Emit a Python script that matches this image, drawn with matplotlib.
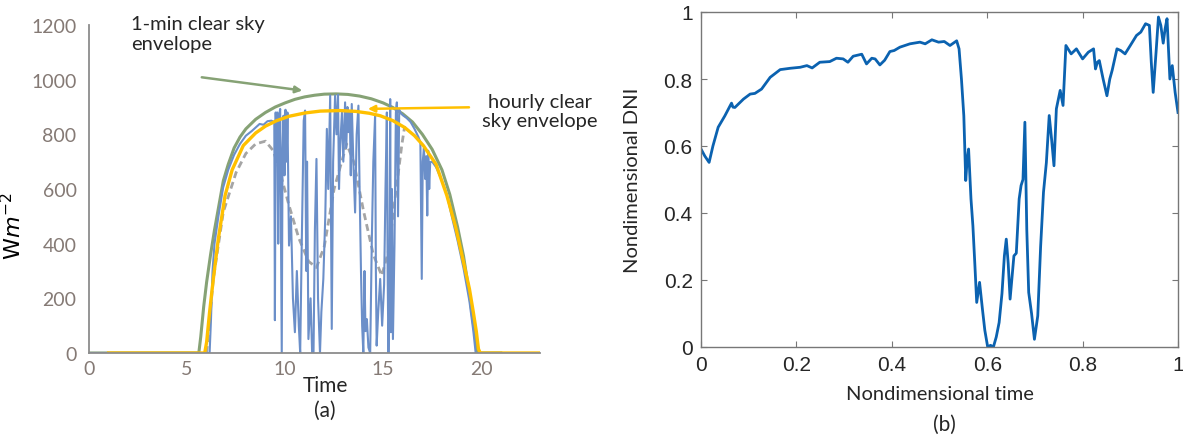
import numpy as np
import matplotlib.pyplot as plt

# (a) 1-min DNI, clear sky envelopes, hourly trend
t_meas = [0, 6.15, 6.22, 6.3, 6.4, 6.6, 6.84, 7.1, 7.4, 7.7, 8.0, 8.3, 8.5, 8.7, 8.9, 9.1, 9.3, 9.45,
          9.48, 9.52, 9.56, 9.6, 9.65, 9.7, 9.75, 9.8, 9.83, 9.87, 9.92, 9.97, 10.02, 10.08, 10.12,
          10.2, 10.3, 10.4, 10.5, 10.6, 10.7, 10.77, 10.85, 10.95, 11.02, 11.08, 11.12, 11.19, 11.3,
          11.38, 11.45, 11.52, 11.6, 11.68, 11.78, 11.85, 11.95, 12.05, 12.13, 12.2, 12.3, 12.38,
          12.45, 12.55, 12.62, 12.7, 12.75, 12.81, 12.9, 12.97, 13.06, 13.12, 13.18, 13.23, 13.3,
          13.35, 13.4, 13.48, 13.57, 13.65, 13.74, 13.8, 13.87, 13.93, 13.99, 14.05, 14.1, 14.17,
          14.25, 14.34, 14.42, 14.5, 14.59, 14.63, 14.67, 14.75, 14.85, 14.95, 15.05, 15.12, 15.19,
          15.23, 15.27, 15.32, 15.36, 15.4, 15.45, 15.5, 15.58, 15.65, 15.7, 15.76, 15.82, 15.87,
          16.0, 16.2, 16.4, 16.6, 16.8, 16.9, 16.97, 17.02, 17.08, 17.14, 17.2, 17.25, 17.3, 17.35,
          17.4, 17.5, 17.7, 18.0, 18.25, 18.5, 18.8, 19.1, 19.4, 19.6, 19.72, 21]
dni_meas = [0, 0, 120, 300, 400, 500, 605, 670, 725, 765, 795, 812, 825, 838, 835, 848, 850, 845,
            120, 880, 700, 880, 400, 870, 893, 300, 0, 750, 868, 650, 890, 700, 880,
            393, 500, 200, 76, 300, 100, 0, 400, 850, 887, 300, 700, 51, 200,
            0, 0, 450, 710, 200, 0, 150, 271, 500, 820, 600, 942, 88,
            700, 942, 800, 945, 600, 759, 880, 700, 917, 750, 900, 808, 880,
            650, 911, 700, 514, 800, 905, 600, 300, 100, 0, 300, 80, 124,
            20, 0, 400, 700, 868, 300, 27, 150, 271, 100, 250, 600, 880,
            300, 0, 200, 929, 76, 600, 51, 400, 880, 917, 500, 890, 880,
            870, 860, 845, 820, 790, 770, 271, 700, 750, 637, 720, 503, 740, 600,
            698, 700, 680, 630, 580, 500, 410, 310, 190, 80, 0, 0]

t_env1 = [0, 5.6, 5.7, 5.85, 6.0, 6.2, 6.4, 6.6, 6.85, 7.1, 7.4, 7.7, 8.0, 8.5, 9.0, 9.5, 10,
          10.5, 11, 11.5, 12, 12.6, 13.2, 13.8, 14.4, 15, 15.5, 16, 16.5, 17, 17.5, 18, 18.4,
          18.8, 19.1, 19.4, 19.6, 19.75, 19.82, 21]
env1 = [0, 0, 60, 170, 260, 360, 450, 530, 630, 690, 750, 790, 820, 855, 880, 900, 915,
        928, 937, 943, 947, 948, 946, 940, 930, 915, 898, 875, 845, 800, 745, 670, 580,
        460, 355, 215, 110, 30, 0, 0]

t_env60 = [1, 5.9, 6.0, 6.15, 6.34, 6.6, 6.94, 7.3, 7.87, 8.5, 9.0, 9.57, 10.2, 11, 11.8, 12.8,
           13.6, 14.3, 14.85, 15.5, 16.1, 16.6, 17.05, 17.7, 18.25, 18.7, 19.1, 19.4, 19.6,
           19.75, 19.86, 19.95, 23]
env60 = [0, 0, 40, 150, 271, 420, 576, 670, 759, 805, 830, 850, 866, 878, 885, 887,
         884, 877, 868, 850, 825, 795, 759, 690, 576, 460, 332, 235, 149,
         80, 15, 0, 0]

t_trend = [6.0, 6.34, 6.85, 7.5, 8.0, 8.5, 9.0, 9.4, 9.74, 10.2, 10.7, 11.2, 11.6, 12.0, 12.5,
           13.14, 13.5, 14.0, 14.5, 14.93, 15.3, 15.6, 15.95, 16.1]
trend = [0, 271, 516, 660, 730, 765, 775, 740, 662, 540, 420, 335, 313, 390, 600,
         765, 700, 520, 360, 283, 380, 560, 760, 830]

# (b) nondimensional DNI
x_nd = [0.0, 0.008, 0.017, 0.025, 0.036, 0.05, 0.061, 0.064, 0.067, 0.071, 0.089, 0.103, 0.113,
        0.127, 0.145, 0.166, 0.187, 0.208, 0.222, 0.233, 0.249, 0.27, 0.284, 0.298, 0.308,
        0.319, 0.337, 0.347, 0.358, 0.365, 0.375, 0.385, 0.396, 0.405, 0.417, 0.438, 0.459,
        0.47, 0.484, 0.498, 0.51, 0.522, 0.536, 0.541, 0.546, 0.551, 0.555, 0.558, 0.561,
        0.566, 0.57, 0.574, 0.578, 0.584, 0.59, 0.595, 0.601, 0.607, 0.613, 0.619, 0.625,
        0.631, 0.636, 0.64, 0.644, 0.648, 0.656, 0.661, 0.667, 0.671, 0.675, 0.679, 0.683,
        0.687, 0.693, 0.699, 0.706, 0.712, 0.718, 0.724, 0.73, 0.735, 0.74, 0.745, 0.753,
        0.759, 0.765, 0.776, 0.787, 0.8, 0.812, 0.823, 0.827, 0.831, 0.835, 0.843, 0.851,
        0.857, 0.862, 0.872, 0.88, 0.889, 0.9, 0.913, 0.922, 0.932, 0.94, 0.944, 0.948,
        0.954, 0.959, 0.964, 0.969, 0.973, 0.977, 0.983, 0.988, 0.994, 1.0]
dni_nd = [0.591, 0.57, 0.551, 0.6, 0.656, 0.69, 0.72, 0.728, 0.716, 0.715, 0.74, 0.755, 0.757,
          0.77, 0.805, 0.828, 0.832, 0.835, 0.84, 0.833, 0.85, 0.852, 0.862, 0.86, 0.85,
          0.868, 0.874, 0.845, 0.862, 0.86, 0.842, 0.856, 0.882, 0.885, 0.895, 0.905, 0.91,
          0.905, 0.917, 0.91, 0.912, 0.9, 0.914, 0.89, 0.8, 0.69, 0.497, 0.56, 0.591,
          0.442, 0.362, 0.25, 0.133, 0.193, 0.113, 0.05, 0.0, 0.005, 0.0, 0.03, 0.073,
          0.16, 0.272, 0.322, 0.25, 0.143, 0.272, 0.28, 0.442, 0.482, 0.5, 0.671, 0.35,
          0.163, 0.1, 0.023, 0.093, 0.3, 0.462, 0.55, 0.691, 0.62, 0.541, 0.711, 0.766,
          0.721, 0.9, 0.875, 0.89, 0.86, 0.88, 0.89, 0.83, 0.85, 0.855, 0.8, 0.75,
          0.8, 0.826, 0.89, 0.885, 0.875, 0.9, 0.93, 0.94, 0.965, 0.96, 0.85, 0.76,
          0.88, 0.985, 0.96, 0.907, 0.95, 0.98, 0.8, 0.84, 0.76, 0.70]

blue = '#6b8fc9'
green = '#86a275'
orange = '#ffc000'
gray_txt = '#857a75'
calibri = ['Lato', 'DejaVu Sans']

fig = plt.figure(figsize=(11.83, 4.39), dpi=100)

# ---- (a)
ax1 = fig.add_axes([89/1183, 1-354/439, (540-89)/1183, (354-26)/439])
ax1.plot(t_trend, trend, color='#a5a5a5', lw=2, ls=(0, (2.5, 1.5)))
ax1.plot(t_env1, env1, color=green, lw=2.2)
ax1.plot(t_meas, dni_meas, color=blue, lw=1.5)
ax1.plot(t_env60, env60, color=orange, lw=2.4)
ax1.set_xlim(0, 23)
ax1.set_ylim(0, 1200)
ax1.set_xticks([0, 5, 10, 15, 20])
ax1.set_yticks(range(0, 1201, 200))
for s in ['top', 'right']:
    ax1.spines[s].set_visible(False)
for s in ['left', 'bottom']:
    ax1.spines[s].set_color('#8c8c8c')
    ax1.spines[s].set_linewidth(1.3)
ax1.tick_params(length=0, labelsize=14, labelcolor=gray_txt)
ax1.tick_params(axis='y', pad=9)
ax1.tick_params(axis='x', pad=5)
for lab in ax1.get_xticklabels() + ax1.get_yticklabels():
    lab.set_family(calibri)
ax1.set_ylabel('W$m^{-2}$', fontsize=16)
ax1.yaxis.set_label_coords(-64/451, 0.39)

ax1.annotate('', xy=(11.02, 959), xytext=(5.61, 1010),
             arrowprops=dict(arrowstyle='-|>', color=green, lw=1.8, mutation_scale=10),
             annotation_clip=False)
ax1.annotate('', xy=(14.08, 893), xytext=(19.52, 899),
             arrowprops=dict(arrowstyle='-|>', color=orange, lw=1.8, mutation_scale=10),
             annotation_clip=False)
ax1.text(2.14, 1235, '1-min clear sky\nenvelope', fontsize=14.5, family=calibri,
         color='#262626', va='top', ha='left', linespacing=1.2)
ax1.text(23.0, 953, 'hourly clear\nsky envelope', fontsize=14.5, family=calibri,
         color='#262626', va='top', ha='center', linespacing=1.2)
fig.text(325/1183, 1-386/439, 'Time', fontsize=15, family=calibri, color='#262626',
         ha='center', va='center')
fig.text(325/1183, 1-411/439, '(a)', fontsize=15, family=calibri, color='#262626',
         ha='center', va='center')

# ---- (b)
ax2 = fig.add_axes([701/1183, 1-348/439, (1178-701)/1183, (348-13)/439])
ax2.plot(x_nd, dni_nd, color='#0b62b0', lw=2)
ax2.set_xlim(0, 1)
ax2.set_ylim(0, 1)
ax2.set_xticks([0, 0.2, 0.4, 0.6, 0.8, 1])
ax2.set_yticks([0, 0.2, 0.4, 0.6, 0.8, 1])
ax2.set_xticklabels(['0', '0.2', '0.4', '0.6', '0.8', '1'])
ax2.set_yticklabels(['0', '0.2', '0.4', '0.6', '0.8', '1'])
for s in ax2.spines.values():
    s.set_color('#777777')
    s.set_linewidth(1.0)
ax2.tick_params(direction='in', length=4, width=0.8, color='#777777', top=True, right=True,
                labelsize=15, labelcolor='#262626')
ax2.tick_params(axis='x', pad=6)
ax2.tick_params(axis='y', pad=6)
for lab in ax2.get_xticklabels() + ax2.get_yticklabels():
    lab.set_family(['Liberation Sans', 'DejaVu Sans'])
ax2.set_ylabel('Nondimensional DNI', fontsize=14.5, family=calibri, color='#262626')
ax2.yaxis.set_label_coords(-(701-641)/477, 0.5)
fig.text(940/1183, 1-395/439, 'Nondimensional time', fontsize=14.5, family=calibri,
         color='#262626', ha='center', va='center')
fig.text(944/1183, 1-425/439, '(b)', fontsize=15, family=calibri, color='#262626',
         ha='center', va='center')

fig.savefig('out.png', dpi=100)
